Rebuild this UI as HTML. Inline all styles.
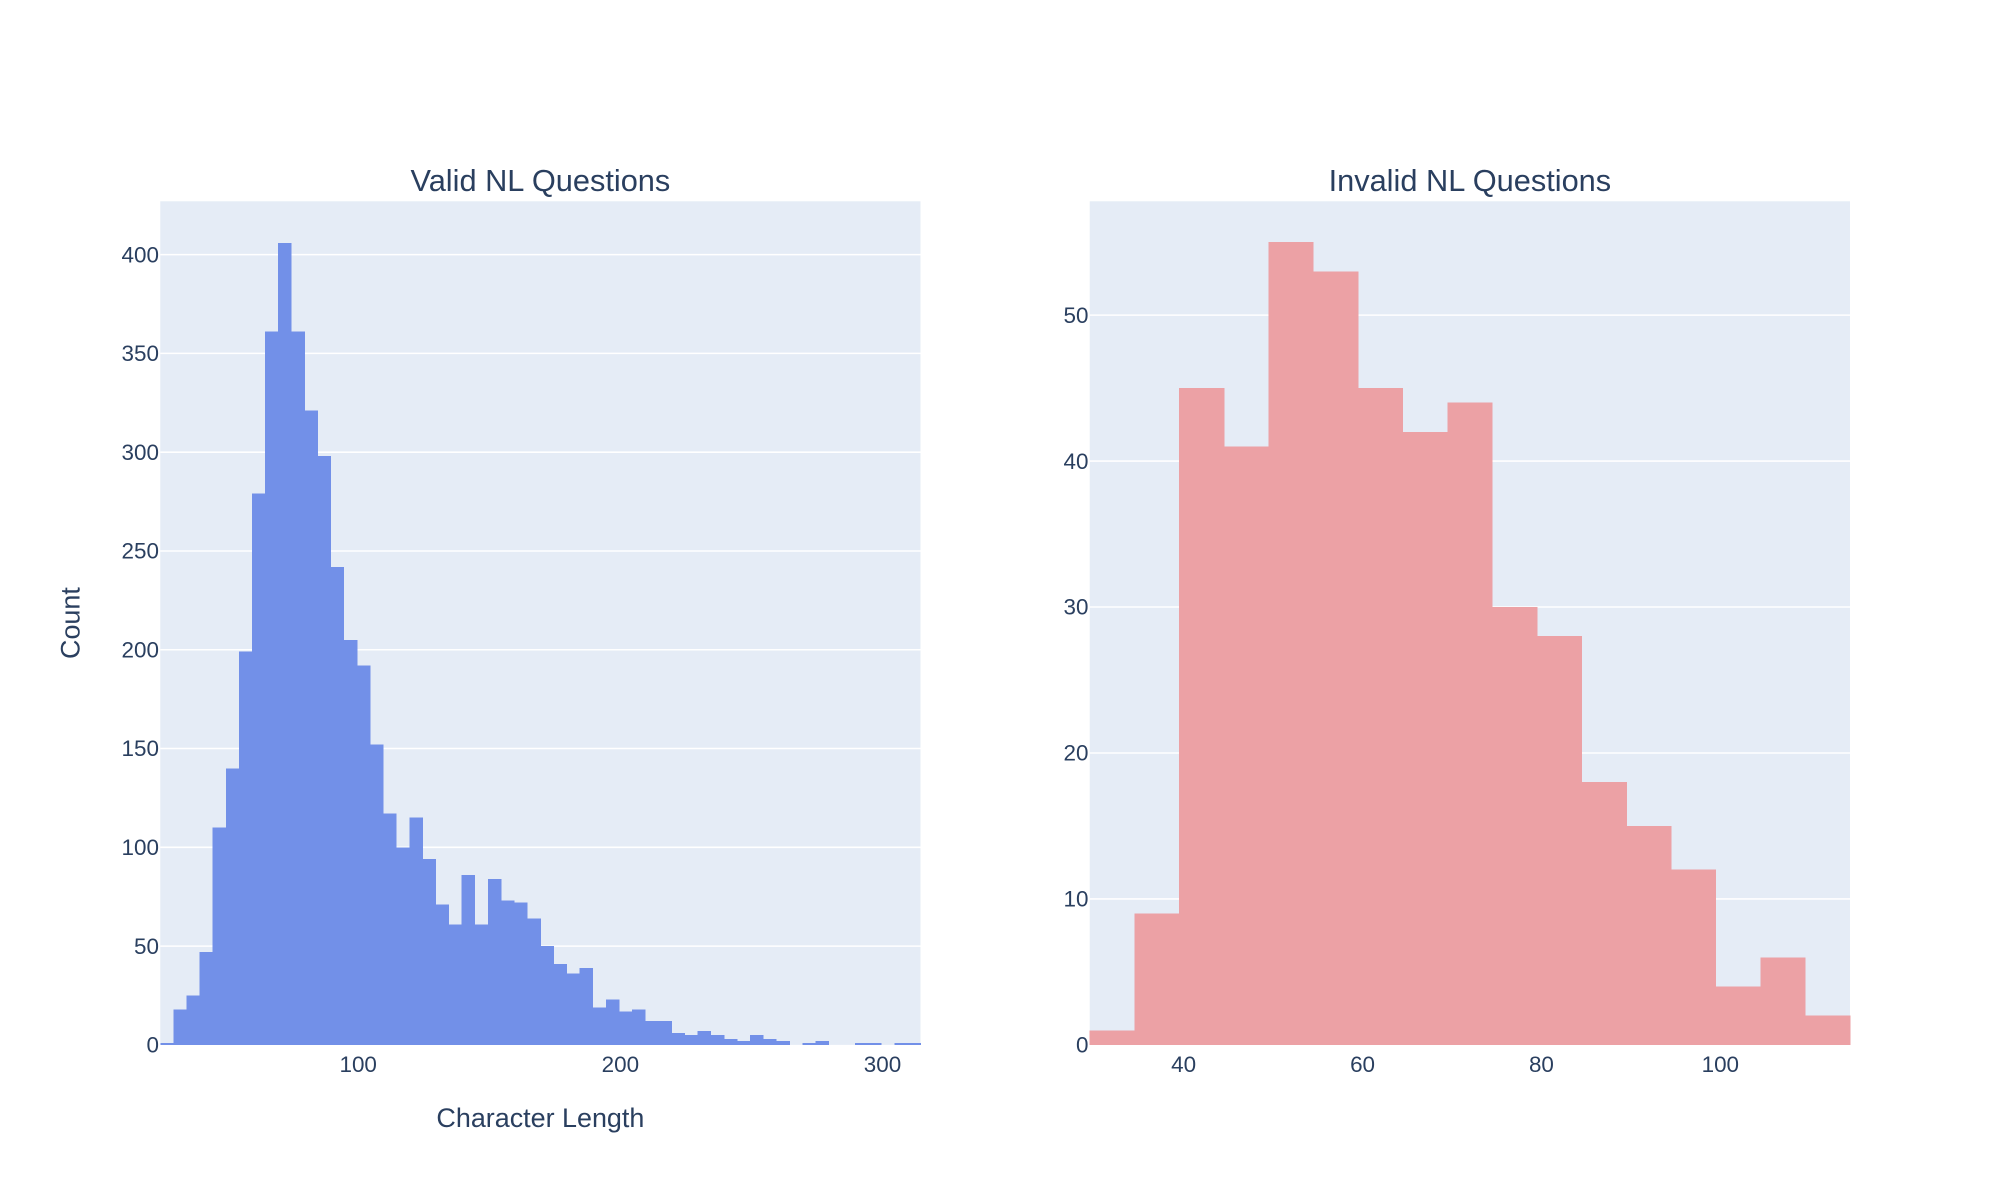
<!DOCTYPE html>
<html><head><meta charset="utf-8"><style>
html,body{margin:0;padding:0;background:#fff;}
svg{display:block;font-family:"Liberation Sans",Arial,sans-serif;}
</style></head><body>
<svg id="chart" width="2000" height="1200" viewBox="0 0 1560 936">
<g id="left"></g>
<g id="right"></g>
</svg>
<script>
const validBinStart = 24.5;
const validBinWidth = 5;
const validCounts = [1,18,25,47,110,140,199,279,361,406,361,321,298,242,205,192,152,117,100,115,94,71,61,86,61,84,73,72,64,50,41,36,39,19,23,17,18,12,12,6,5,7,5,3,2,5,3,2,0,1,2,0,0,1,1,0,1,1];
const validXTicks = [100,200,300];
const validYTicks = [0,50,100,150,200,250,300,350,400];

const invalidBinStart = 29.5;
const invalidBinWidth = 5;
const invalidCounts = [1,9,45,41,55,53,45,42,44,30,28,18,15,12,4,6,2];
const invalidXTicks = [40,60,80,100];
const invalidYTicks = [0,10,20,30,40,50];

const NS = "http://www.w3.org/2000/svg";
function mk(parent, tag, attrs, text){
  const e = document.createElementNS(NS, tag);
  for (const k in attrs) e.setAttribute(k, attrs[k]);
  if (text !== undefined) e.textContent = text;
  parent.appendChild(e);
  return e;
}
function panel(g, cfg){
  const {x0,x1,y0,y1,xmin,xmax,ymax,start,width,counts,xt,yt,color,title,name} = cfg;
  const sx = v => x0 + (v - xmin) / (xmax - xmin) * (x1 - x0);
  const sy = v => y1 - v / ymax * (y1 - y0);
  const bg = mk(g,'rect',{x:x0,y:y0,width:x1-x0,height:y1-y0,fill:'#e5ecf6'});
  
  
  yt.forEach(t => {
    if (t > 0) {
      const l = mk(g,'line',{x1:x0,x2:x1,y1:sy(t),y2:sy(t),stroke:'#fff','stroke-width':1.2});
      
      
    }
    const tx = mk(g,'text',{x:x0-1,y:sy(t)+6,'text-anchor':'end','font-size':17.5,fill:'#2a3f5f'}, String(t));
    
    
  });
  counts.forEach((c,i) => {
    const a = sx(start + i*width), b = sx(start + (i+1)*width);
    const r = mk(g,'rect',{x:a,y:sy(c),width:b-a+0.3,height:sy(0)-sy(c),fill:color,'shape-rendering':'crispEdges'});
    
    
  });
  xt.forEach(t => {
    const tx = mk(g,'text',{x:sx(t),y:y1+21,'text-anchor':'middle','font-size':17.5,fill:'#2a3f5f'}, String(t));
    
    
  });
  const ti = mk(g,'text',{x:(x0+x1)/2,y:y0-8,'text-anchor':'middle','font-size':24,fill:'#2a3f5f'}, title);
  
  
}
panel(document.getElementById('left'), {x0:125,x1:718,y0:157,y1:815,xmin:24.5,xmax:314.5,ymax:427,
  start:validBinStart,width:validBinWidth,counts:validCounts,xt:validXTicks,yt:validYTicks,
  color:'rgb(114,144,232)',title:'Valid NL Questions',name:'valid'});
panel(document.getElementById('right'), {x0:850,x1:1443,y0:157,y1:815,xmin:29.5,xmax:114.5,ymax:57.8,
  start:invalidBinStart,width:invalidBinWidth,counts:invalidCounts,xt:invalidXTicks,yt:invalidYTicks,
  color:'rgb(236,161,165)',title:'Invalid NL Questions',name:'invalid'});
const svg = document.getElementById('chart');
const xl = mk(svg,'text',{x:421.5,y:879,'text-anchor':'middle','font-size':21,fill:'#2a3f5f'},'Character Length');


const yl = mk(svg,'text',{x:0,y:0,transform:'translate(62,486) rotate(-90)','text-anchor':'middle','font-size':21,fill:'#2a3f5f'},'Count');


</script>
</body></html>
